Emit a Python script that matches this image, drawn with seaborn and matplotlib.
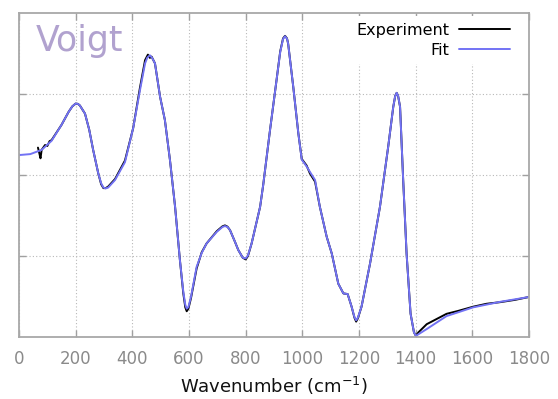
import matplotlib
matplotlib.use("Agg")
import matplotlib.pyplot as plt
import seaborn as sns
import pandas as pd

# Fitted Voigt profile (wavenumber in cm^-1, normalised reflectance)
fit_wn = [0, 40, 80, 115, 150, 175, 188, 200, 208, 215, 233, 248, 262, 280,
          290, 298, 306, 315, 339, 374, 403, 427, 445, 453, 462, 470, 480,
          498, 515, 533, 551, 568, 580, 587, 592, 598, 607, 627, 645, 662,
          698, 718, 727, 736, 745, 762, 774, 790, 800, 808, 821, 851, 862,
          886, 909, 922, 932, 939, 946, 950, 968, 986, 998, 1015, 1027, 1045,
          1062, 1086, 1104, 1127, 1145, 1160, 1174, 1184, 1190, 1196, 1209,
          1239, 1274, 1303, 1321, 1328, 1333, 1338, 1345, 1356, 1368, 1382,
          1394, 1401, 1410, 1439, 1509, 1603, 1698, 1800]
fit_val = [0.562, 0.565, 0.578, 0.606, 0.655, 0.695, 0.712, 0.721, 0.720,
           0.715, 0.690, 0.640, 0.577, 0.505, 0.475, 0.462, 0.459, 0.462,
           0.485, 0.540, 0.645, 0.762, 0.845, 0.863, 0.870, 0.862, 0.845,
           0.742, 0.670, 0.546, 0.402, 0.238, 0.140, 0.100, 0.088, 0.093,
           0.124, 0.217, 0.260, 0.289, 0.325, 0.340, 0.343, 0.340, 0.330,
           0.295, 0.269, 0.245, 0.243, 0.252, 0.289, 0.402, 0.470, 0.639,
           0.793, 0.880, 0.920, 0.929, 0.921, 0.906, 0.773, 0.629, 0.548,
           0.527, 0.510, 0.485, 0.402, 0.310, 0.258, 0.165, 0.135, 0.133,
           0.094, 0.062, 0.052, 0.060, 0.094, 0.227, 0.402, 0.587, 0.711,
           0.745, 0.754, 0.745, 0.711, 0.485, 0.258, 0.073, 0.015, 0.004,
           0.009, 0.025, 0.065, 0.092, 0.109, 0.124]

# Measured spectrum
exp_wn = [67, 72, 76, 80, 92, 100, 108, 115, 150, 175, 188, 200, 208, 215,
          233, 248, 262, 280, 290, 298, 306, 315, 339, 374, 403, 427, 445,
          455, 462, 468, 480, 498, 515, 533, 551, 568, 580, 587, 592, 598,
          607, 627, 645, 662, 698, 718, 727, 736, 745, 762, 774, 790, 800,
          808, 821, 851, 862, 886, 909, 922, 932, 939, 946, 950, 968, 986,
          998, 1015, 1027, 1045, 1062, 1086, 1104, 1127, 1145, 1160, 1174,
          1184, 1190, 1196, 1209, 1239, 1274, 1303, 1321, 1328, 1333, 1338,
          1345, 1356, 1368, 1382, 1394, 1401, 1410, 1439, 1509, 1550, 1603,
          1650, 1698, 1750, 1800]
exp_val = [0.585, 0.567, 0.552, 0.578, 0.593, 0.590, 0.605, 0.608, 0.655,
           0.695, 0.712, 0.721, 0.720, 0.715, 0.690, 0.640, 0.577, 0.505,
           0.472, 0.460, 0.460, 0.465, 0.488, 0.545, 0.645, 0.770, 0.855,
           0.872, 0.862, 0.866, 0.845, 0.742, 0.670, 0.546, 0.402, 0.238,
           0.135, 0.092, 0.080, 0.088, 0.120, 0.212, 0.262, 0.289, 0.327,
           0.342, 0.345, 0.341, 0.330, 0.295, 0.269, 0.245, 0.240, 0.250,
           0.289, 0.402, 0.470, 0.639, 0.793, 0.882, 0.922, 0.930, 0.922,
           0.906, 0.773, 0.629, 0.550, 0.530, 0.505, 0.480, 0.402, 0.310,
           0.258, 0.165, 0.135, 0.133, 0.094, 0.060, 0.048, 0.058, 0.094,
           0.227, 0.402, 0.587, 0.711, 0.745, 0.754, 0.745, 0.711, 0.485,
           0.258, 0.073, 0.015, 0.004, 0.015, 0.040, 0.072, 0.081, 0.094,
           0.103, 0.108, 0.115, 0.124]

x_ticks = [0, 200, 400, 600, 800, 1000, 1200, 1400, 1600, 1800]
y_ticks = [0.25, 0.5, 0.75]

sns.set_theme(style="white")
plt.rcParams["font.family"] = ["DejaVu Sans"]

fig = plt.figure(figsize=(5.58, 3.99), dpi=100)
ax = fig.add_axes([0.034, 0.155, 0.914, 0.812])

exp_df = pd.DataFrame({"wn": exp_wn, "val": exp_val})
fit_df = pd.DataFrame({"wn": fit_wn, "val": fit_val})

sns.lineplot(data=exp_df, x="wn", y="val", ax=ax, color="black",
             linewidth=1.4, sort=False, estimator=None, label="Experiment",
             solid_joinstyle="round", solid_capstyle="round")
sns.lineplot(data=fit_df, x="wn", y="val", ax=ax, color="#7272f4",
             linewidth=1.4, sort=False, estimator=None, label="Fit",
             solid_joinstyle="round", solid_capstyle="round")

ax.set_xlim(0, 1800)
ax.set_ylim(0, 1)
ax.set_xticks(x_ticks)
ax.set_yticks(y_ticks)
ax.set_yticklabels([])
ax.grid(True, linestyle=(0, (1, 2)), color="#b8b8b8", linewidth=0.8)
ax.set_axisbelow(True)

ax.tick_params(axis="both", direction="in", length=5, width=1,
               color="#a0a0a0", top=True, right=True, bottom=True, left=True)
ax.tick_params(axis="x", labelsize=12, labelcolor="#8a8a8a", pad=9)
for sp in ax.spines.values():
    sp.set_color("#a8a8a8")
    sp.set_linewidth(1.3)

ax.set_xlabel("Wavenumber (cm$^{-1}$)", fontsize=13, color="#111111",
              labelpad=5)
ax.set_ylabel("")

ax.text(0.033, 0.968, "Voigt", transform=ax.transAxes, fontsize=25,
        color="#b1a2cf", ha="left", va="top")

leg = ax.legend(loc="upper right", bbox_to_anchor=(0.975, 0.99),
                frameon=True, markerfirst=False,
                fontsize=11.5, handlelength=3.2, borderaxespad=0.0,
                labelspacing=0.3, handletextpad=0.6)
leg.get_frame().set_facecolor("white")
leg.get_frame().set_edgecolor("none")
leg.get_frame().set_alpha(1)
for t in leg.get_texts():
    t.set_ha("right")
    t.set_color("black")

fig.savefig("out.png", dpi=100)
